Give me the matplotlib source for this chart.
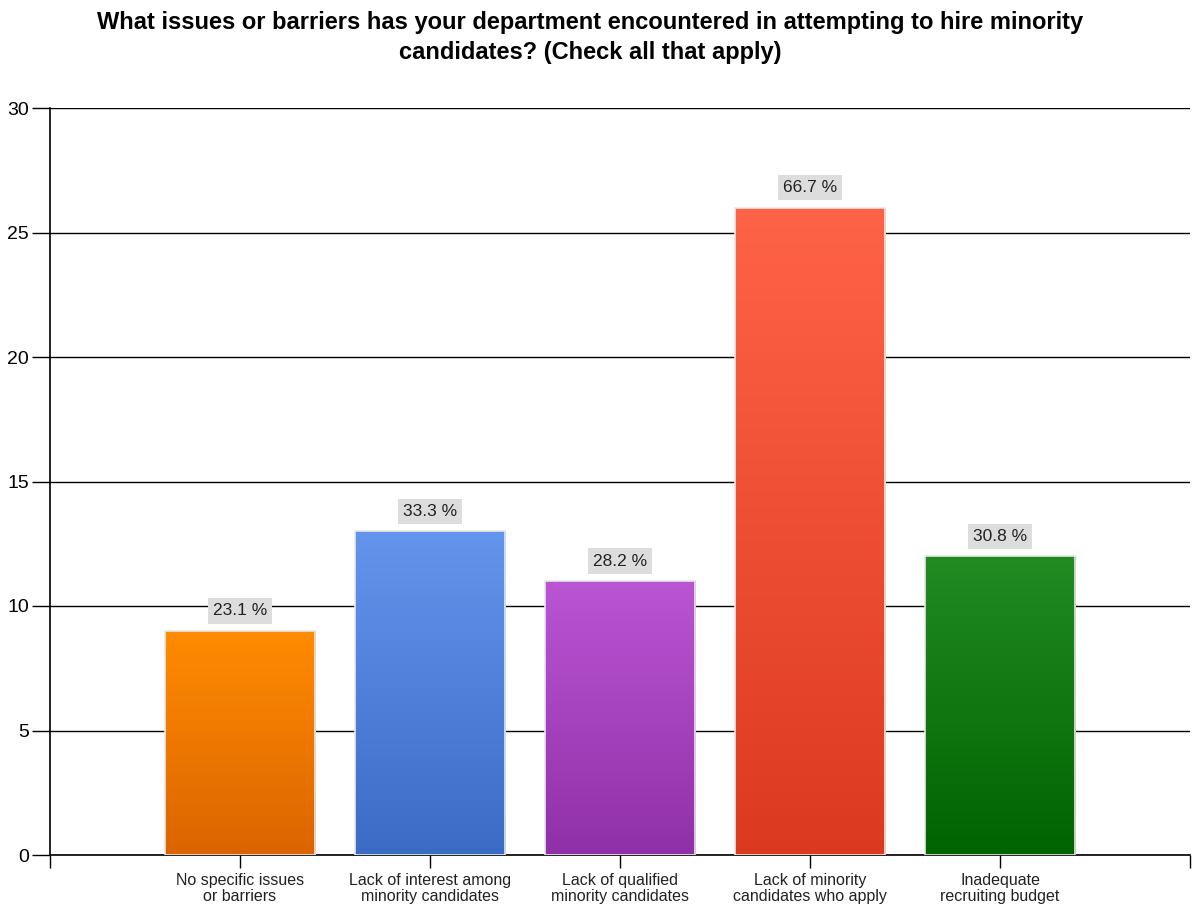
import numpy as np
import matplotlib.pyplot as plt
from matplotlib.colors import LinearSegmentedColormap

categories = ["No specific issues\nor barriers",
              "Lack of interest among\nminority candidates",
              "Lack of qualified\nminority candidates",
              "Lack of minority\ncandidates who apply",
              "Inadequate\nrecruiting budget"]
counts = [9, 13, 11, 26, 12]
percents = ["23.1 %", "33.3 %", "28.2 %", "66.7 %", "30.8 %"]
top_colors = ["#ff8c00", "#6495ed", "#ba55d3", "#ff6347", "#228b22"]
bottom_colors = ["#dc6400", "#3a6cc6", "#9030a8", "#dc3a1e", "#006400"]

plt.rcParams['font.family'] = ['Liberation Sans', 'DejaVu Sans']

fig = plt.figure(figsize=(11.93, 9.07), dpi=100)
ax = fig.add_axes([50/1193, 52/907, 1140/1193, 747/907])

x = np.arange(1, len(counts) + 1)
bars = ax.bar(x, counts, width=0.79, edgecolor="#e8e8e8", linewidth=1.2, zorder=3)

grad = np.linspace(0, 1, 256).reshape(-1, 1)
for b, c0, c1 in zip(bars, top_colors, bottom_colors):
    cmap = LinearSegmentedColormap.from_list("g", [c1, c0])
    bx, by = b.get_x(), b.get_y()
    w, h = b.get_width(), b.get_height()
    im = ax.imshow(grad, cmap=cmap, extent=[bx, bx + w, by, by + h],
                   origin="lower", aspect="auto", zorder=3.5)
    im.set_clip_path(b)
    b.set_facecolor("none")
    b.set_zorder(4)

for xi, v, p in zip(x, counts, percents):
    ax.text(xi, v + 0.5, p, ha="center", va="bottom", fontsize=12.5, color="#222222",
            bbox=dict(boxstyle="square,pad=0.3", fc="#dddddd", ec="none"), zorder=5)

ax.set_xlim(0, 6)
ax.set_ylim(0, 30)
ax.set_yticks(range(0, 31, 5))
ax.set_xticks(range(0, 7))
ax.set_xticklabels([""] + categories + [""], fontsize=11.5, color="#222222",
                   linespacing=1.1)
ax.tick_params(axis="y", labelsize=14, length=13, width=1, color="black", pad=2)
ax.tick_params(axis="x", length=9, width=1, color="black", pad=4)
ax.yaxis.grid(True, color="black", linewidth=1, zorder=0)
ax.set_axisbelow(True)
for s in ["top", "right"]:
    ax.spines[s].set_visible(False)
ax.spines["left"].set_linewidth(1.2)
ax.spines["bottom"].set_linewidth(1.2)

fig.suptitle("What issues or barriers has your department encountered in attempting to hire minority\ncandidates? (Check all that apply)",
             fontsize=17, fontweight="bold", y=0.988, va="top", x=0.495, linespacing=1.4)

fig.savefig("out.png", dpi=100)
